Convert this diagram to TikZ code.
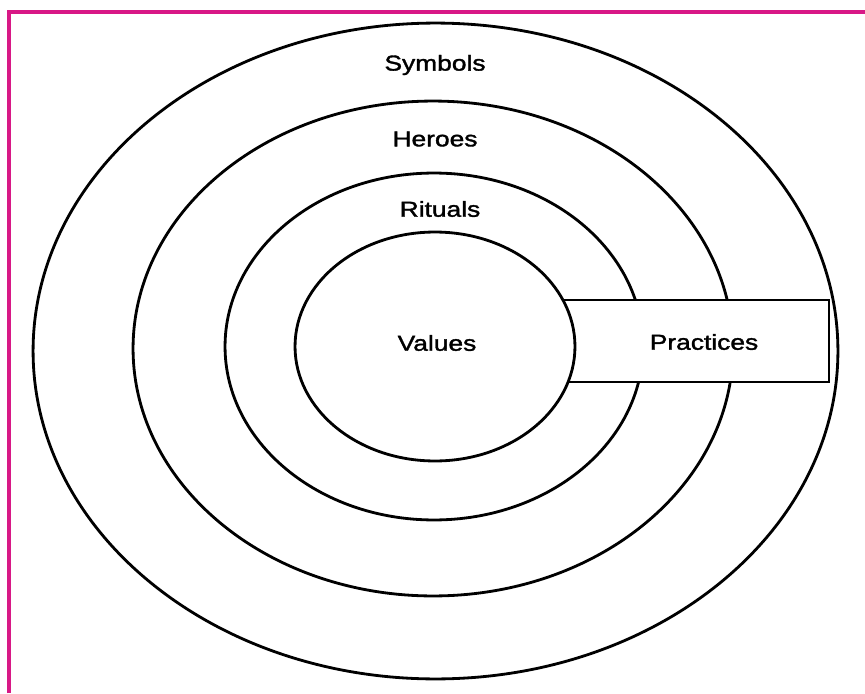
\documentclass[tikz,border=0pt]{standalone}
\usepackage{fontspec}
\setmainfont{Liberation Sans}[FakeStretch=1.22,FakeBold=1.6]
\usepackage{xcolor}
\usepackage{tikz}
\usetikzlibrary{shapes.geometric,positioning}

\definecolor{framepink}{RGB}{216,24,134}

\begin{document}
\begin{tikzpicture}[x=0.02cm, y=-0.02cm,
  ring/.style={draw, ellipse, line width=1.6pt, inner sep=0pt},
  band/.style={draw, rectangle, line width=1.6pt, fill=white, inner sep=0pt},
  lab/.style={font=\fontsize{12.3}{14}\selectfont}]
\useasboundingbox (0,0) rectangle (865,693);

% Frame (only top and left edges show)
\draw[framepink, line width=2.1pt] (9,693) -- (9,12) -- (865,12);

% Rings, outside in
\node[ring, minimum width=16.10cm, minimum height=13.12cm] (symbols) at (435.5,351) {};
\node[ring, minimum width=12.00cm, minimum height=9.90cm] (heroes) at (433,348.5) {};
\node[ring, minimum width=8.36cm, minimum height=6.94cm] (rituals) at (434,346.5) {};

% Practices band cuts through the rings
\node[band, minimum width=5.38cm, minimum height=1.64cm] (practices) at (694.5,341) {};

% Core
\node[ring, fill=white, minimum width=5.60cm, minimum height=4.58cm] (values) at (435,346.5) {};

% Labels
\node[lab] (symbolslabel) at (435,65) {Symbols};
\node[lab] (heroeslabel) at (435,139) {Heroes};
\node[lab] (ritualslabel) at (440,209) {Rituals};
\node[lab] (valueslabel) at (437,343) {Values};
\node[lab] (practiceslabel) at (704,342) {Practices};
\end{tikzpicture}
\end{document}
